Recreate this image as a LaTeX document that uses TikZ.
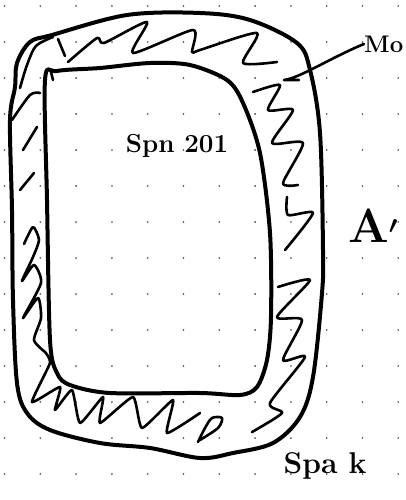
\documentclass[tikz,border=0pt]{standalone}
\usetikzlibrary{calc}
\tikzset{
  bandline/.style={line width=4pt, line join=round, line cap=round},
  scribble/.style={line width=2.6pt, line join=round, line cap=round},
  lbl/.style={inner sep=0pt, text=black},
  griddot/.style={fill=black!75}
}
\begin{document}
\begin{tikzpicture}[x=1pt,y=-1pt]
\useasboundingbox (0,0) rectangle (405,500);
\fill[white] (0,0) rectangle (405,500);
% dotted grid
\foreach \i in {0,...,11}{
  \foreach \j in {0,...,13}{
    \fill[griddot] ({4.5+35.8*\i},{6+36*\j}) circle (0.9pt);
  }
}
% outer boundary
\draw[bandline] plot[smooth cycle, tension=0.55] coordinates {
 (52,35) (127,15) (200,13) (250,20) (297,43) (310,70) (320,133) (323,250)
 (322,293) (313,377) (300,417) (273,443) (233,453) (200,458) (150,448)
 (100,443) (50,430) (27,413) (17,383) (13,300) (12,210) (10,120) (15,87) (17,63) (30,42)};
% inner boundary
\draw[bandline] plot[smooth cycle, tension=0.5] coordinates {
 (57,71) (100,68) (150,63) (190,65) (227,80) (243,103) (260,153) (270,233)
 (271,317) (267,360) (257,387) (240,395) (200,393) (110,393) (70,385)
 (57,373) (50,340) (47,200) (45,80)};
% top band zigzag
\draw[scribble] plot[smooth, tension=0.4] coordinates {
 (68,62) (97,38) (104,43) (147,22) (133,53) (193,30) (192,52) (200,50) (257,33) (243,63) (277,62)};
% right band zigzag
\draw[scribble] plot[smooth, tension=0.4] coordinates {
 (253,92) (280,85) (268,110) (293,110) (272,143) (303,143) (283,183) (298,185)};
\draw[scribble] plot[smooth, tension=0.4] coordinates {
 (287,197) (288,215) (313,213) (285,250)};
\draw[scribble] plot[smooth, tension=0.4] coordinates {
 (278,287) (310,280) (277,317) (302,320) (283,360) (305,357) (270,403) (282,413) (252,432)};
% bottom band zigzag
\draw[scribble] plot[smooth, tension=0.3] coordinates {
 (45,352) (50,363) (32,402) (60,387) (55,410) (72,390) (80,423) (103,397) (100,423)
 (133,397) (142,428) (173,400) (167,433) (200,413)};
\draw[scribble] plot[smooth, tension=0.5] coordinates {
 (200,440) (218,428) (222,418) (212,418) (205,428) (198,442)};
% left band zigzag
\draw[scribble] plot[smooth, tension=0.4] coordinates {
 (24,244) (33,227) (39,240) (33,257) (22,281) (34,265) (41,283) (23,318)
 (38,298) (41,318) (34,340) (45,352)};
% upper left strokes
\draw[scribble] plot[smooth, tension=0.5] coordinates {(20,88) (27,65) (36,46) (53,37)};
\draw[scribble] plot[smooth, tension=0.5] coordinates {(12,120) (30,95) (40,93)};
\draw[scribble] (23,150) -- (37,127);
\draw[scribble] (20,190) -- (34,173);
\draw[scribble] (58,39) -- (65,56);
\draw[scribble] (51,72) -- (53,80);
% labels
\node[lbl, font=\bfseries\fontsize{26}{26}\selectfont] (inner) at (177,146) {Spn 201};
\node[lbl, font=\bfseries\fontsize{24}{24}\selectfont, anchor=west] (m0) at (364,44) {Mo};
\node[lbl, font=\bfseries\boldmath\fontsize{48}{48}\selectfont] (aprime) at (373,226) {A$'$};
\node[lbl, font=\bfseries\fontsize{30}{30}\selectfont] (outer) at (325,466) {Spa k};
% leader from Mo
\coordinate (lead) at (284,80);
\draw[scribble] (m0.west) .. controls (330,58) and (300,78) .. (lead) -- (299,80);
\end{tikzpicture}
\end{document}
